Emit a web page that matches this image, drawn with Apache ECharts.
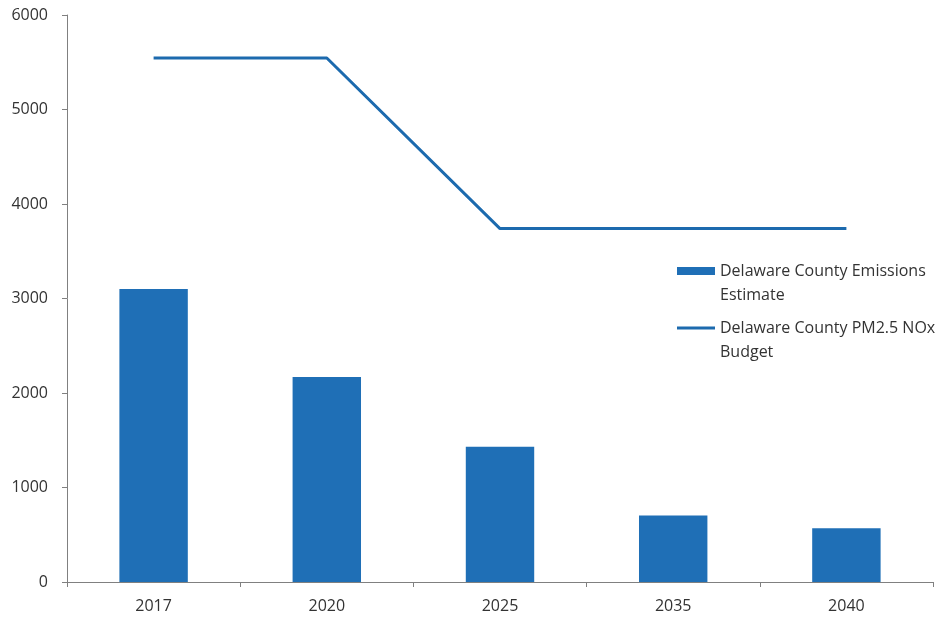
<!DOCTYPE html>
<html>
<head>
<meta charset="utf-8">
<script src="https://cdn.jsdelivr.net/npm/echarts@6/dist/echarts.min.js"></script>
<style>html,body{margin:0;padding:0;background:#fff}#c{width:944px;height:617px}</style>
</head>
<body>
<div id="c"></div>
<script>
const categories = ['2017', '2020', '2025', '2035', '2040'];
const emissionsEstimate = [3100, 2170, 1430, 705, 568];
const noxBudget = [5545, 5545, 3740, 3740, 3740];
const yTicks = [0, 1000, 2000, 3000, 4000, 5000, 6000];
const seriesNames = ['Delaware County Emissions\nEstimate', 'Delaware County PM2.5 NOx\nBudget'];

const FONT = '"Open Sans"';
const chart = echarts.init(document.getElementById('c'), null, {renderer: 'canvas'});
const legendText = {
  fontFamily: FONT, fontSize: 16, color: '#333333', lineHeight: 24
};
const shiftFormatter = name => '\n' + name;
chart.setOption({
  animation: false,
  backgroundColor: '#ffffff',
  grid: {left: 67, right: 11, top: 15, bottom: 35, containLabel: false},
  legend: [
    {data: [{name: seriesNames[0], icon: 'rect'}], orient: 'vertical', left: 677, top: 235, padding: 0,
     itemWidth: 38, itemHeight: 8, itemGap: 0, textStyle: legendText, formatter: shiftFormatter},
    {data: [{name: seriesNames[1], icon: 'rect'}], orient: 'vertical', left: 677, top: 292, padding: 0,
     itemWidth: 38, itemHeight: 3, itemGap: 0, textStyle: legendText, formatter: shiftFormatter}
  ],
  xAxis: {
    type: 'category', data: categories,
    axisLine: {lineStyle: {color: '#808080', width: 1}},
    axisTick: {show: true, length: 5, alignWithLabel: false, lineStyle: {color: '#808080'}},
    axisLabel: {fontFamily: FONT, fontSize: 16, color: '#333333', margin: 16}
  },
  yAxis: {
    type: 'value', min: yTicks[0], max: yTicks[yTicks.length - 1], interval: 1000,
    axisLine: {show: true, lineStyle: {color: '#808080', width: 1}},
    axisTick: {show: true, length: 5, lineStyle: {color: '#808080'}},
    splitLine: {show: false},
    axisLabel: {fontFamily: FONT, fontSize: 16, color: '#333333', margin: 19,
                formatter: v => String(v)}
  },
  series: [
    {name: seriesNames[0], type: 'bar', data: emissionsEstimate, barWidth: '39.5%',
     itemStyle: {color: '#1f6fb6'}},
    {name: seriesNames[1], type: 'line', data: noxBudget, symbol: 'none',
     lineStyle: {color: '#1c6aae', width: 3}, itemStyle: {color: '#1c6aae'}}
  ]
});
</script>
</body>
</html>
